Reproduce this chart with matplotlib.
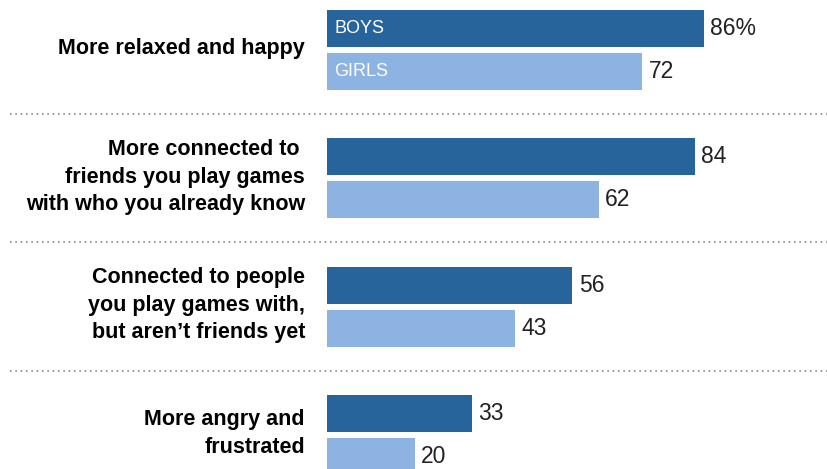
import matplotlib.pyplot as plt
from matplotlib.transforms import blended_transform_factory

categories = [
    "More relaxed and happy",
    "More connected to \nfriends you play games\nwith who you already know",
    "Connected to people\nyou play games with,\nbut aren\u2019t friends yet",
    "More angry and\nfrustrated",
]
boys = [86, 84, 56, 33]
girls = [72, 62, 43, 20]
series_names = ["BOYS", "GIRLS"]

boys_color = "#27649c"
girls_color = "#8db3e2"

fig = plt.figure(figsize=(8.27, 4.69), dpi=100)
ax = fig.add_axes([327 / 827, 0, 500 / 827, 1])

offset = 0.1676
h = 0.288
ys = list(range(len(categories)))
ax.barh([y - offset for y in ys], boys, height=h, color=boys_color)
ax.barh([y + offset for y in ys], girls, height=h, color=girls_color)

ax.set_xlim(0, 500 / 4.38)
ax.set_ylim(3.266, -0.39)
ax.axis("off")

pad = 1.5
for i, (b, g) in enumerate(zip(boys, girls)):
    blab = f"{b}%" if i == 0 else str(b)
    ax.text(b + pad, i - offset, blab, va="center", ha="left",
            fontsize=16.5, family="Liberation Sans", color="#222222")
    ax.text(g + pad, i + offset, str(g), va="center", ha="left",
            fontsize=16.5, family="Liberation Sans", color="#222222")

# series names inside the first pair of bars
ax.text(1.6, -offset, series_names[0], va="center", ha="left",
        fontsize=13, family="Liberation Sans", color="white")
ax.text(1.6, offset, series_names[1], va="center", ha="left",
        fontsize=13, family="Liberation Sans", color="white")

# category labels on the left
lab_tr = blended_transform_factory(fig.transFigure, ax.transData)
for i, cat in enumerate(categories):
    ax.text(305 / 827, i - 0.01, cat, transform=lab_tr, ha="right", va="center",
            fontsize=15.5, fontweight="bold", family="Liberation Sans",
            linespacing=1.4, color="black", multialignment="right")

# dotted separators
for i in range(len(categories) - 1):
    ax.plot([10 / 827, 1], [i + 0.5, i + 0.5], transform=lab_tr, clip_on=False,
            color="#8a8a8a", linewidth=1.2, linestyle=(0, (1, 2.2)))

fig.savefig("out.png", dpi=100)
